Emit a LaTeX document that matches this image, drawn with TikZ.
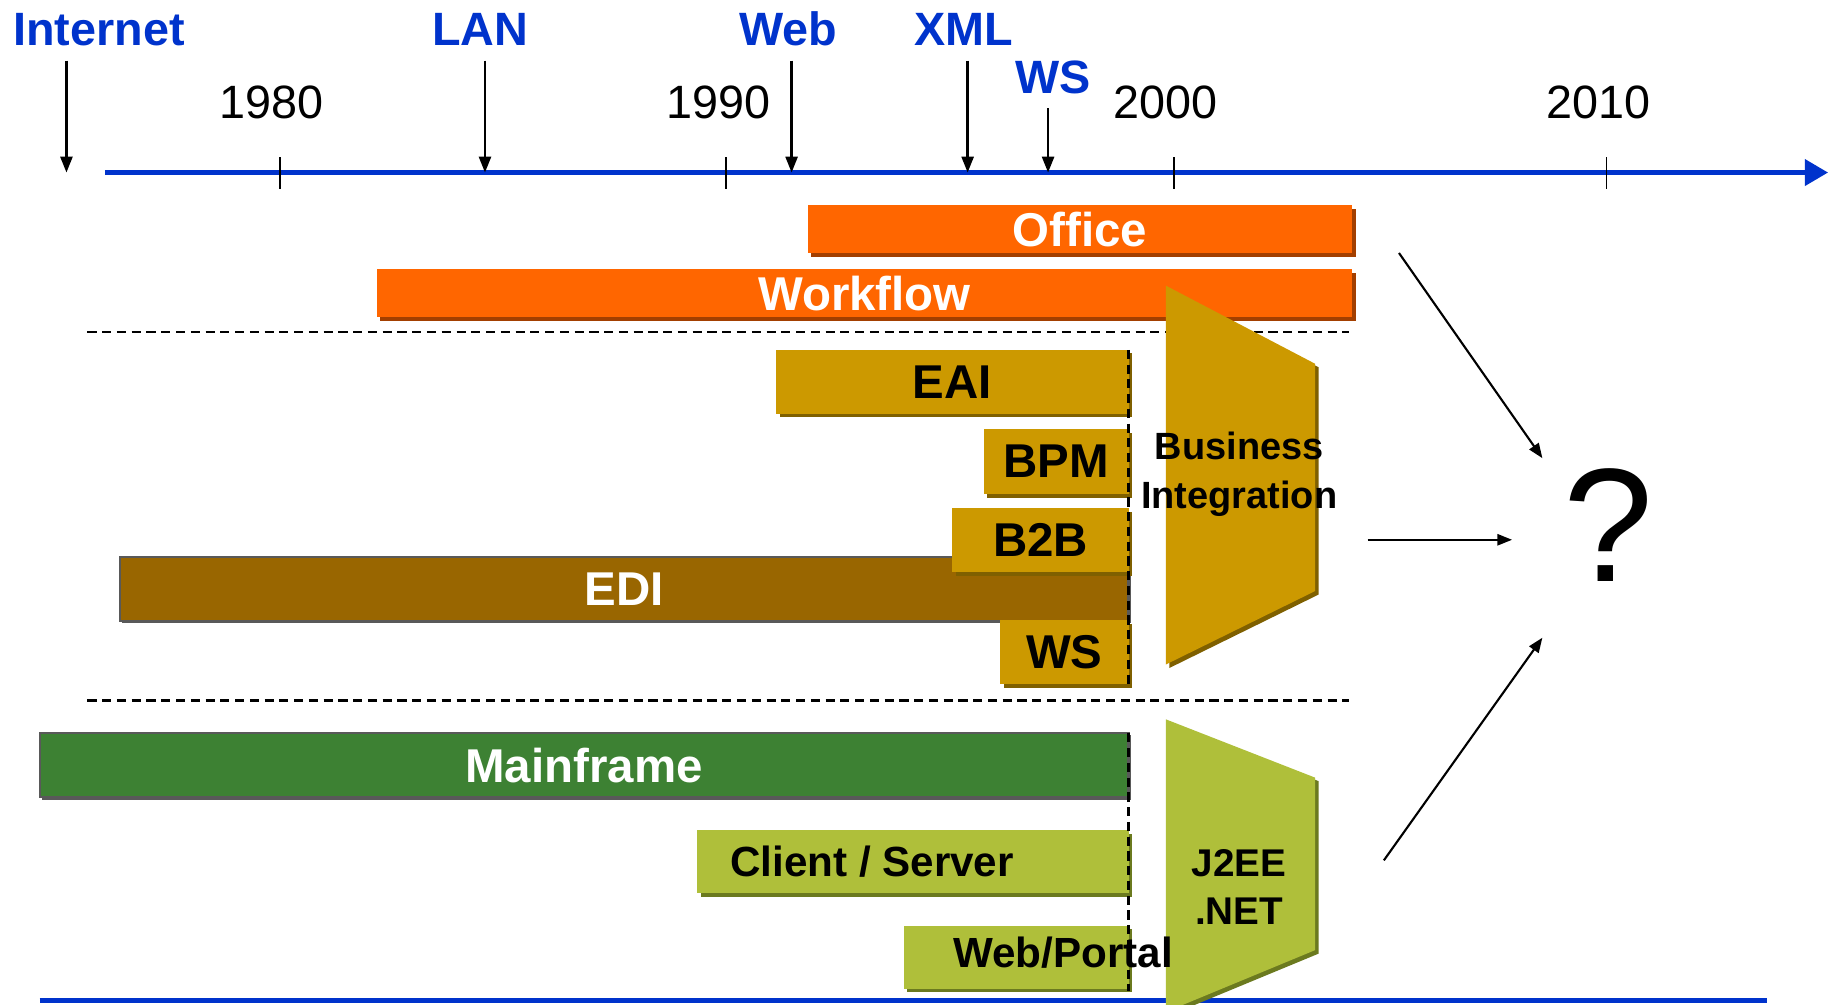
\documentclass[tikz,border=0pt]{standalone}
\usepackage{fontspec}
\setmainfont{Liberation Sans}
\usetikzlibrary{arrows.meta, shadows, fit}

\definecolor{axisblue}{HTML}{0033CC}
\definecolor{orng}{HTML}{FF6600}
\definecolor{orngdark}{HTML}{A33F00}
\definecolor{gold}{HTML}{CC9900}
\definecolor{golddark}{HTML}{7F6000}
\definecolor{edibrown}{HTML}{996600}
\definecolor{mfgreen}{HTML}{3D8133}
\definecolor{lime}{HTML}{AFBF3A}
\definecolor{limedark}{HTML}{6B7A1F}

\tikzset{
  eventlbl/.style={text=axisblue, font=\fontsize{13.3}{16}\selectfont\bfseries},
  yearlbl/.style={font=\fontsize{13.3}{16}\selectfont},
  barbox/.style={inner sep=0pt, outer sep=0pt},
  barlbl/.style={font=\fontsize{13.5}{16}\selectfont\bfseries},
  orangebar/.style={fill=orng, drop shadow={shadow xshift=1pt, shadow yshift=-1pt, opacity=1, fill=orngdark}},
  goldbar/.style={fill=gold, drop shadow={shadow xshift=1pt, shadow yshift=-1pt, opacity=1, fill=golddark}},
  edibar/.style={fill=edibrown, draw=black!65, line width=0.6pt, drop shadow={shadow xshift=0.6pt, shadow yshift=-0.6pt, opacity=1, fill=black!65}},
  mfbar/.style={fill=mfgreen, draw=black!65, line width=0.6pt, drop shadow={shadow xshift=0.6pt, shadow yshift=-0.6pt, opacity=1, fill=black!65}},
  limebar/.style={fill=lime, drop shadow={shadow xshift=1pt, shadow yshift=-1pt, opacity=1, fill=limedark}},
  smalllbl/.style={font=\fontsize{12}{14}\selectfont\bfseries},
  stacklbl/.style={align=center, font=\fontsize{10.8}{13.8}\selectfont\bfseries},
  sepline/.style={line width=0.7pt, dash pattern=on 2.6pt off 1.6pt},
  evarrow/.style={line width=0.7pt, -{Triangle[length=4.5pt, width=3.4pt]}},
  qarrow/.style={line width=0.6pt, -{Triangle[length=4.2pt, width=3.2pt]}}
}

\begin{document}
\begin{tikzpicture}[x=0.011658cm, y=-0.011658cm]
\useasboundingbox (0,0) rectangle (1568,862);

% Draw the time axis
\draw[axisblue, line width=1.2pt, -{Triangle[length=6.6pt, width=7.4pt]}] (90,148) -- (1568,148);

% Ticks and years
\foreach \x/\yr in {240/1980, 623/1990, 1007/2000, 1378/2010} {
  \draw[line width=0.5pt] (\x,135) -- (\x,162);
  \node[yearlbl] (yr-\yr) at (\x-7,88) {\yr};
}

% Events on the axis
\foreach \name/\x/\lx/\ly/\top in {Internet/57/85/25/52, LAN/416/412/25/52, Web/679/676/25/52, XML/830/827/25/52, WS/899/903/66/93} {
  \node[eventlbl] (ev-\name) at (\lx,\ly) {\name};
  \draw[evarrow] (\x,\top) -- (\x,148);
}

% Separators
\draw[sepline] (75,285) -- (1157,285);
\draw[sepline] (75,601) -- (1157,601);
\draw[axisblue, line width=1.3pt] (34,858) -- (1516,858);

% Draw the bars
\node[barbox, orangebar, fit={(693,176) (1160,217)}] (office) {};
\node[barbox, orangebar, fit={(323,231) (1160,272)}] (workflow) {};
\node[barbox, goldbar, fit={(666,300) (968,355)}] (eai) {};
\node[barbox, goldbar, fit={(844,368) (968,424)}] (bpm) {};
\node[barbox, edibar, fit={(103,478) (968,533)}] (edi) {};
\node[barbox, goldbar, fit={(817,436) (968,491)}] (b2b) {};
\node[barbox, goldbar, fit={(858,532) (968,587)}] (ws) {};
\node[barbox, mfbar, fit={(34,629) (968,684)}] (mainframe) {};
\node[barbox, limebar, fit={(598,712) (968,766)}] (clientserver) {};
\node[barbox, limebar, fit={(775,794) (968,848)}] (webportal) {};

% Bar names
\node[barlbl, text=white] (office-lbl) at (office.center) {Office};
\node[barlbl, text=white] (workflow-lbl) at (workflow.center) {Workflow};
\node[barlbl] (eai-lbl) at (eai.center) {EAI};
\node[barlbl] (bpm-lbl) at (bpm.center) {BPM};
\node[barlbl, text=white] (edi-lbl) at (edi.center) {EDI};
\node[barlbl] (b2b-lbl) at (b2b.center) {B2B};
\node[barlbl] (ws-lbl) at (ws.center) {WS};
\node[barlbl, text=white] (mainframe-lbl) at (mainframe.center) {Mainframe};

% Right edges of the bars
\draw[sepline] (968,300) -- (968,588);
\draw[sepline] (968,629) -- (968,850);

% Draw the two funnels
\fill[golddark, shift={(3,3)}] (1000,245) -- (1128,312) -- (1128,507) -- (1000,570) -- cycle;
\fill[gold] (1000,245) -- (1128,312) -- (1128,507) -- (1000,570) -- cycle;
\fill[limedark, shift={(3,3)}] (1000,617) -- (1128,667) -- (1128,815) -- (1000,868) -- cycle;
\fill[lime] (1000,617) -- (1128,667) -- (1128,815) -- (1000,868) -- cycle;

% Labels on top
\node[smalllbl] (cs-lbl) at (748,739) {Client / Server};
\node[smalllbl] (wp-lbl) at (912,817) {Web/Portal};
\node[stacklbl] (bi-lbl) at (1063,407) {Business\\Integration};
\node[stacklbl, font=\fontsize{11}{13.6}\selectfont\bfseries] (j2ee-lbl) at (1063,761) {J2EE\\.NET};

% The open question
\node[font=\fontsize{46}{50}\selectfont] (q) at (1380,450) {?};

\coordinate (from-top) at (1200,217);
\coordinate (to-top) at (1323,393);
\coordinate (from-mid) at (1173,463);
\coordinate (to-mid) at (1297,463);
\coordinate (from-low) at (1187,738);
\coordinate (to-low) at (1323,547);
\foreach \a in {top, mid, low}
  \draw[qarrow] (from-\a) -- (to-\a);
\end{tikzpicture}
\end{document}
